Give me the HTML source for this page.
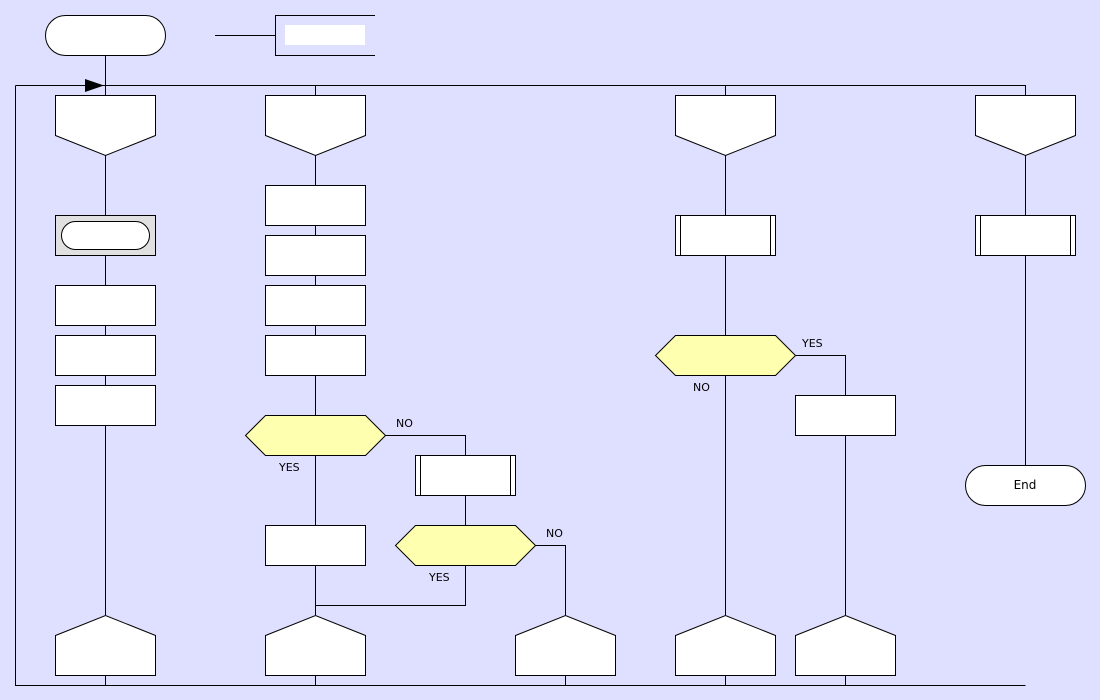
<!DOCTYPE html>
<html><head><style>html,body{margin:0;padding:0;background:#dfdfff}svg{display:block}</style></head>
<body>
<svg width="1100" height="700" xmlns="http://www.w3.org/2000/svg" font-family="'DejaVu Sans','Liberation Sans',sans-serif" font-size="11">
<rect width="1100" height="700" fill="#dfdfff"/>
<g stroke="#000" stroke-width="1" fill="none">
<!-- loop frame -->
<path d="M105.5 55V95 M15.5 85.5H1025.5V95 M315.5 85.5V95 M725.5 85.5V95 M15.5 85.5V685.5H1025.5"/>
<!-- col1 -->
<path d="M105.5 155V215 M105.5 255V615 M105.5 675V685"/>
<!-- col2 -->
<path d="M315.5 155V185 M315.5 225V235 M315.5 275V285 M315.5 325V335 M315.5 375V415 M315.5 455V525 M315.5 565V615 M315.5 675V685"/>
<path d="M385 435.5H465.5V455 M465.5 495V525 M465.5 565V605.5H315.5 M535 545.5H565.5V615 M565.5 675V685"/>
<!-- col3 -->
<path d="M725.5 155V215 M725.5 255V335 M725.5 375V615 M725.5 675V685 M795 355.5H845.5V395 M845.5 435V615 M845.5 675V685"/>
<!-- col4 -->
<path d="M1025.5 155V215 M1025.5 255V465"/>
<!-- annotation -->
<path d="M215 35.5H275.5 M375 15.5H275.5V55.5H375"/>
</g>
<rect x="285" y="25" width="80" height="20" fill="#fff"/>
<polygon points="85,79 104,85.5 85,92" fill="#000"/>
<g stroke="#000" stroke-width="1" fill="#fff">
<rect x="45.5" y="15.5" width="120" height="40" rx="20"/>
<!-- top loop shapes -->
<polygon points="55.5,95.5 155.5,95.5 155.5,135.5 105.5,155.5 55.5,135.5"/>
<polygon points="265.5,95.5 365.5,95.5 365.5,135.5 315.5,155.5 265.5,135.5"/>
<polygon points="675.5,95.5 775.5,95.5 775.5,135.5 725.5,155.5 675.5,135.5"/>
<polygon points="975.5,95.5 1075.5,95.5 1075.5,135.5 1025.5,155.5 975.5,135.5"/>
<!-- col1 -->
<rect x="55.5" y="215.5" width="100" height="40" fill="#e0e0e0"/>
<rect x="61.5" y="221.5" width="88" height="28" rx="14"/>
<rect x="55.5" y="285.5" width="100" height="40"/>
<rect x="55.5" y="335.5" width="100" height="40"/>
<rect x="55.5" y="385.5" width="100" height="40"/>
<!-- col2 -->
<rect x="265.5" y="185.5" width="100" height="40"/>
<rect x="265.5" y="235.5" width="100" height="40"/>
<rect x="265.5" y="285.5" width="100" height="40"/>
<rect x="265.5" y="335.5" width="100" height="40"/>
<rect x="265.5" y="525.5" width="100" height="40"/>
<rect x="415.5" y="455.5" width="100" height="40"/>
<path d="M420.5 455.5V495.5 M510.5 455.5V495.5" fill="none"/>
<!-- col3 -->
<rect x="675.5" y="215.5" width="100" height="40"/>
<path d="M680.5 215.5V255.5 M770.5 215.5V255.5" fill="none"/>
<rect x="795.5" y="395.5" width="100" height="40"/>
<!-- col4 -->
<rect x="975.5" y="215.5" width="100" height="40"/>
<path d="M980.5 215.5V255.5 M1070.5 215.5V255.5" fill="none"/>
<rect x="965.5" y="465.5" width="120" height="40" rx="20"/>
<!-- bottom shapes -->
<polygon points="55.5,635.5 105.5,615.5 155.5,635.5 155.5,675.5 55.5,675.5"/>
<polygon points="265.5,635.5 315.5,615.5 365.5,635.5 365.5,675.5 265.5,675.5"/>
<polygon points="515.5,635.5 565.5,615.5 615.5,635.5 615.5,675.5 515.5,675.5"/>
<polygon points="675.5,635.5 725.5,615.5 775.5,635.5 775.5,675.5 675.5,675.5"/>
<polygon points="795.5,635.5 845.5,615.5 895.5,635.5 895.5,675.5 795.5,675.5"/>
</g>
<g stroke="#000" stroke-width="1" fill="#ffffb0">
<polygon points="245.5,435.5 265.5,415.5 365.5,415.5 385.5,435.5 365.5,455.5 265.5,455.5"/>
<polygon points="395.5,545.5 415.5,525.5 515.5,525.5 535.5,545.5 515.5,565.5 415.5,565.5"/>
<polygon points="655.5,355.5 675.5,335.5 775.5,335.5 795.5,355.5 775.5,375.5 675.5,375.5"/>
</g>
<g fill="#000" font-size="11">
<text x="396" y="427">NO</text>
<text x="279" y="471">YES</text>
<text x="546" y="537">NO</text>
<text x="429" y="581">YES</text>
<text x="802" y="347">YES</text>
<text x="693" y="391">NO</text>
<text x="1025" y="489" text-anchor="middle" font-size="12">End</text>
</g>
</svg>
</body></html>
